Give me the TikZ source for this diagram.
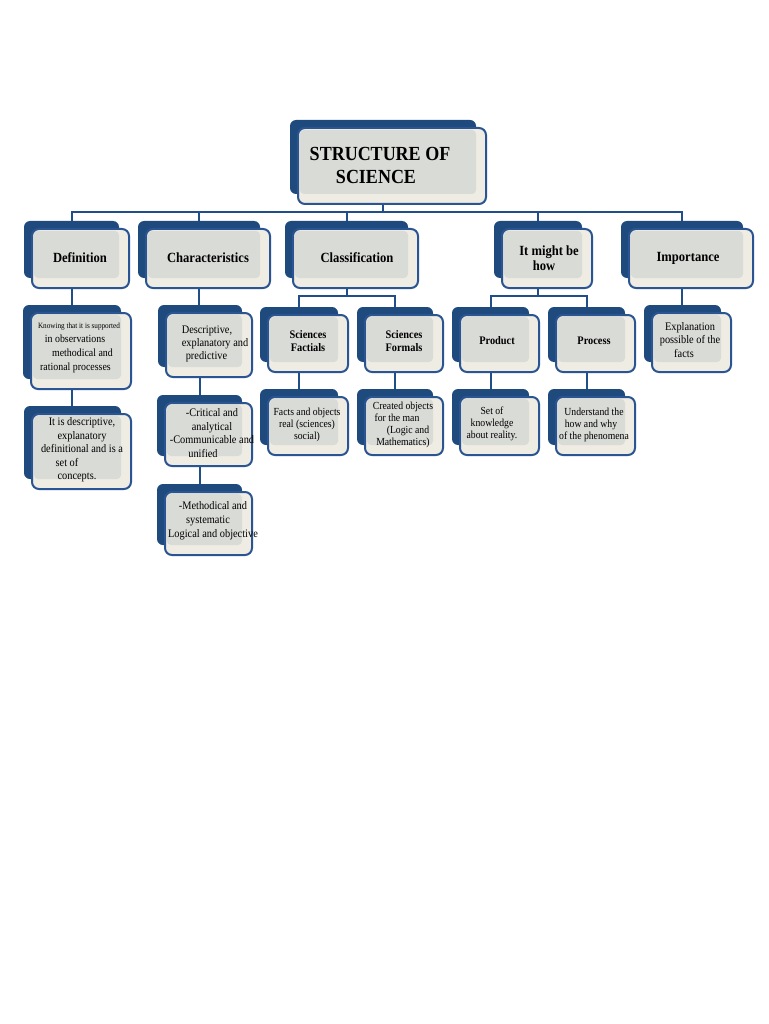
\documentclass[tikz,border=0pt]{standalone}
\usepackage{fontspec}
\setmainfont{Liberation Serif}[FakeStretch=0.9]
\usetikzlibrary{fit}
\pgfdeclarelayer{bg}
\pgfsetlayers{bg,main}
\definecolor{shadowc}{HTML}{1F4A7E}
\definecolor{borderc}{HTML}{2B5592}
\definecolor{linec}{HTML}{1F4E88}
\definecolor{creamc}{HTML}{EEECE3}
\definecolor{innerc}{HTML}{D9DBD7}
\newcommand\rs[1]{\hspace*{#1}\mbox{}}
\tikzset{
 front/.style={draw=borderc, line width=2pt, fill=creamc, rounded corners=7pt, inner sep=0pt},
 shadowbox/.style={fill=shadowc, rounded corners=6pt},
 innerbox/.style={fill=innerc, rounded corners=4pt},
 conn/.style={draw=linec, line width=2pt},
 title/.style={font=\fontsize{20}{23}\selectfont\bfseries, align=center, inner sep=0pt},
 head/.style={font=\fontsize{14}{15}\selectfont\bfseries, align=center, inner sep=0pt},
 body/.style={font=\fontsize{11.5}{13.5}\selectfont, align=center, inner sep=0pt},
 bodyl/.style={font=\fontsize{11.5}{13}\selectfont, align=left, inner sep=0pt},
 small/.style={font=\fontsize{10.8}{12}\selectfont, align=center, inner sep=0pt},
}
\newcommand\card[8]{%
 \fill[shadowbox] ({#2-8},{#3-8}) rectangle ({#4-10},{#5-10});
 \node[front, fit={(#2,#3) (#4,#5)}] (#1) {};
 \fill[innerbox] ({#2+2},{#3+2}) rectangle ({#4-10},{#5-10});
 \coordinate (#1-c) at ({(#2+#4)/2-9},{(#3+#5)/2});
 \node[#6] (#1-t) at (#7) {#8};
}
\begin{document}
\begin{tikzpicture}[x=1pt,y=-1pt]
\useasboundingbox (0,0) rectangle (768,1024);

\card{top}{298}{128}{486}{204}{title}{380,165}{STRUCTURE OF\\SCIENCE\rs{8pt}}

\card{def1}{32}{229}{129}{288}{head}{80,258}{Definition}
\card{char1}{146}{229}{270}{288}{head}{208,258}{Characteristics}
\card{class1}{293}{229}{418}{288}{head}{357,258}{Classification}
\card{how1}{502}{229}{592}{288}{head}{549,258}{It might be\\how\rs{10pt}}
\card{imp1}{629}{229}{753}{288}{head}{688,258}{Importance}

\card{def2}{31}{313}{131}{389}{body,font=\fontsize{11}{14}\selectfont}{79,348}{{\fontsize{8}{9}\selectfont Knowing that it is supported}\\in observations\rs{8pt}\\\hspace*{7pt}methodical and\\rational processes\rs{7pt}}
\card{char2}{166}{313}{252}{377}{bodyl}{215,344}{Descriptive,\\explanatory and\\\hspace*{4pt}predictive}
\card{fact}{268}{315}{348}{372}{head,font=\fontsize{11.5}{13}\selectfont\bfseries}{308,341}{Sciences\\Factials}
\card{formal}{365}{315}{443}{372}{head,font=\fontsize{11.5}{13}\selectfont\bfseries}{404,341}{Sciences\\Formals}
\card{product}{460}{315}{539}{372}{head,font=\fontsize{11.5}{13}\selectfont\bfseries}{497,341}{Product}
\card{process}{556}{315}{635}{372}{head,font=\fontsize{11.5}{13}\selectfont\bfseries}{594,341}{Process}
\card{imp2}{652}{313}{731}{372}{body}{690,340}{Explanation\\possible of the\\facts\rs{12pt}}

\card{def3}{32}{414}{131}{489}{body}{82,450}{It is descriptive,\\explanatory\\definitional and is a\\set of\rs{30pt}\\concepts.\rs{10pt}}
\card{char3}{165}{403}{252}{466}{body}{212,433}{-Critical and\\analytical\\-Communicable and\\unified\rs{18pt}}
\card{char4}{165}{492}{252}{555}{body,font=\fontsize{11.5}{14}\selectfont}{213,521}{-Methodical and\\systematic\rs{10pt}\\Logical and objective}
\card{factsobj}{268}{397}{348}{455}{small}{307,425}{Facts and objects\\real (sciences)\\social)}
\card{created}{365}{397}{443}{455}{small}{403,425}{Created objects\\for the man\rs{12pt}\\\hspace*{10pt}(Logic and\\Mathematics)}
\card{setof}{460}{397}{539}{455}{small}{492,424}{Set of\\knowledge\\about reality.}
\card{understand}{556}{397}{635}{455}{small}{594,425}{Understand the\\how and why\rs{6pt}\\of the phenomena}

\begin{pgfonlayer}{bg}
\fill[white] (0,0) rectangle (768,1024);
\coordinate (bus1) at (0,212);
\coordinate (bus2) at (0,296);
\foreach \n in {def1,char1,class1,how1,imp1} \draw[conn] (top-c) |- (\n-c |- bus1) -- (\n-c);
\foreach \n in {fact,formal} \draw[conn] (class1-c) |- (\n-c |- bus2) -- (\n-c);
\foreach \n in {product,process} \draw[conn] (how1-c) |- (\n-c |- bus2) -- (\n-c);
\foreach \a/\b in {def1/def2,def2/def3,char1/char2,char2/char3,char3/char4,imp1/imp2,fact/factsobj,formal/created,product/setof,process/understand} \draw[conn] (\a-c) -- (\a-c |- \b-c);
\end{pgfonlayer}
\end{tikzpicture}
\end{document}
